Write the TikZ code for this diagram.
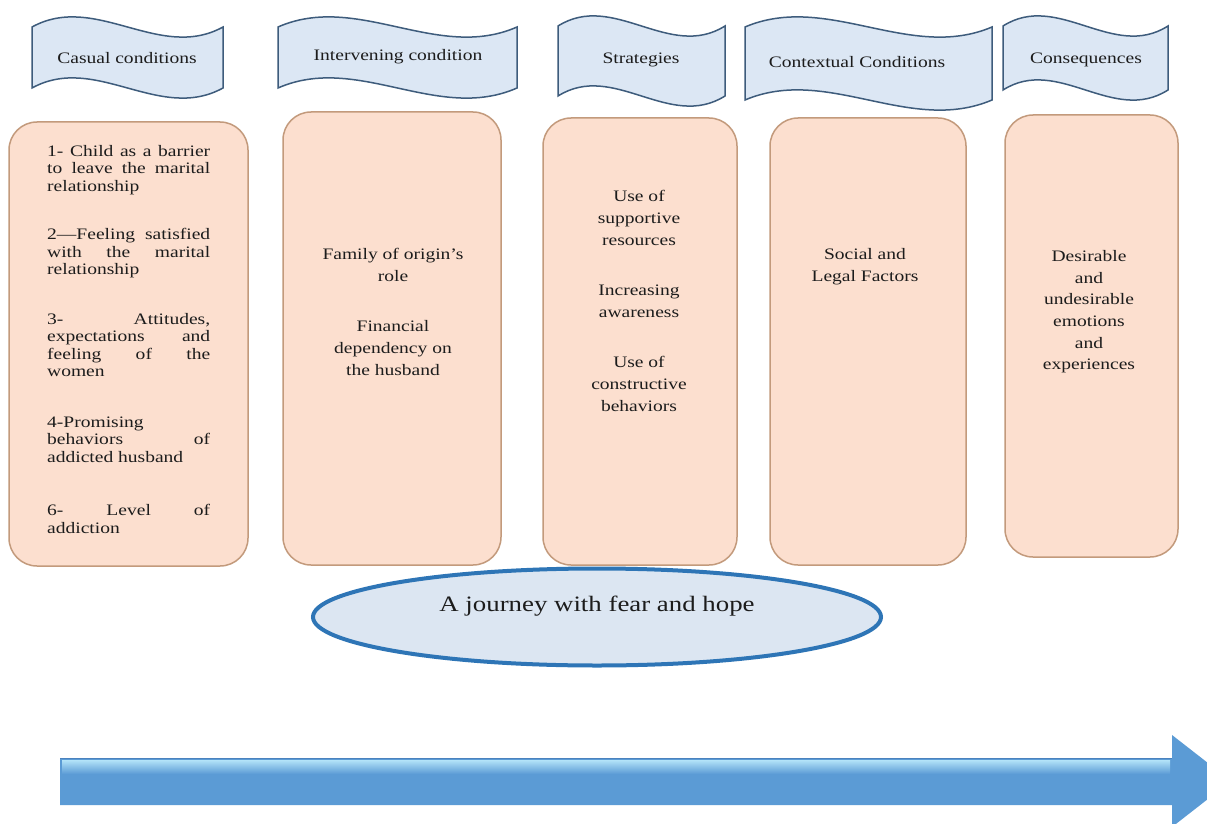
\documentclass[tikz,border=0pt]{standalone}
\usepackage{fontspec}
\setmainfont{Liberation Serif}[FakeStretch=1.22]
\usetikzlibrary{shapes.geometric}
\definecolor{bannerfill}{HTML}{DCE7F4}
\definecolor{bannerdraw}{HTML}{3E5C7C}
\definecolor{boxfill}{HTML}{FCDFCF}
\definecolor{boxdraw}{HTML}{C39A7C}
\definecolor{ellfill}{HTML}{DCE6F2}
\definecolor{elldraw}{HTML}{2E75B6}
\definecolor{arrowfill}{HTML}{5B9BD5}
\definecolor{arrowlight}{HTML}{B3E3F8}
\definecolor{arrowedge}{HTML}{4A82BE}
\definecolor{txt}{HTML}{1C1C1C}
\newcommand\wavebanner[4]{%
  \draw[banner] (#1,#3) .. controls ({#1+(#2-#1)/3},{#3-35}) and ({#1+2*(#2-#1)/3},{#3+35}) .. (#2,#3)
    -- (#2,{#3+#4}) .. controls ({#1+2*(#2-#1)/3},{#3+#4+35}) and ({#1+(#2-#1)/3},{#3+#4-35}) .. (#1,{#3+#4}) -- cycle;}
\begin{document}
\begin{tikzpicture}[x=1pt,y=-1pt,
  banner/.style={draw=bannerdraw, fill=bannerfill, line width=1.5pt},
  btext/.style={text=txt, font=\fontsize{16}{19}\selectfont, inner sep=0pt},
  box/.style={draw=boxdraw, fill=boxfill, line width=1.5pt, rounded corners=28pt, inner sep=0pt},
  ctext/.style={text=txt, align=center, inner sep=0pt, anchor=north, font=\fontsize{16}{22}\selectfont},
]
\fill[white] (0,0) rectangle (1207,824);
\useasboundingbox (0,0) rectangle (1207,824);

% banners
\wavebanner{32}{223}{27}{61}
\wavebanner{278}{517}{27}{61}
\wavebanner{558}{725}{26}{70}
\wavebanner{745}{992}{27}{73}
\wavebanner{1003}{1168}{26}{64}
\node[btext] (h1) at (127,58) {Casual conditions};
\node[btext] (h2) at (398,57) {Intervening condition};
\node[btext] (h3) at (641,60) {Strategies};
\node[btext] (h4) at (857,62) {Contextual Conditions};
\node[btext] (h5) at (1086,60) {Consequences};

% boxes
\node[box, minimum width=239pt, minimum height=444pt] (b1) at (128.5,344) {};
\node[box, minimum width=218pt, minimum height=453pt] (b2) at (392,338.5) {};
\node[box, minimum width=194pt, minimum height=447pt] (b3) at (640,341.5) {};
\node[box, minimum width=196pt, minimum height=447pt] (b4) at (868,341.5) {};
\node[box, minimum width=173pt, minimum height=442pt] (b5) at (1091.5,336) {};

% box texts
\node[text=txt, anchor=north west, inner sep=0pt, align=left, font=\fontsize{16}{17.5}\selectfont] (t1) at (47,145) {%
\makebox[163pt][s]{1- Child as a barrier}\\
\makebox[163pt][s]{to leave the marital}\\
relationship\\[31pt]
\makebox[163pt][s]{2---Feeling satisfied}\\
\makebox[163pt][s]{with the marital}\\
relationship\\[32pt]
\makebox[163pt][s]{3- Attitudes,}\\
\makebox[163pt][s]{expectations and}\\
\makebox[163pt][s]{feeling of the}\\
women\\[33pt]
4-Promising\\
\makebox[163pt][s]{behaviors of}\\
addicted husband\\[36pt]
\makebox[163pt][s]{6- Level of}\\
addiction};

\node[ctext] (t2) at (393,248) {Family of origin's\\ role\\[28pt] Financial\\ dependency on\\ the husband};
\node[ctext] (t3) at (639,190) {Use of\\ supportive\\ resources\\[28pt] Increasing\\ awareness\\[28pt] Use of\\ constructive\\ behaviors};
\node[ctext] (t4) at (865,248) {Social and\\ Legal Factors};
\node[ctext, font=\fontsize{16}{21.7}\selectfont] (t5) at (1089,250) {Desirable\\ and\\ undesirable\\ emotions\\ and\\ experiences};

% ellipse
\node[ellipse, draw=elldraw, fill=ellfill, line width=4pt, minimum width=568pt, minimum height=97pt] (e) at (597,617) {};
\node[text=txt, inner sep=0pt, font=\fontsize{22}{26}\selectfont] (et) at (597,606) {A journey with fear and hope};

% big arrow
\fill[arrowfill] (60,758) -- (1172,758) -- (1172,735) -- (1231,781) -- (1172,827) -- (1172,805) -- (60,805) -- cycle;
\shade[top color=arrowlight, bottom color=arrowfill] (62,760) -- (1170,760) -- (1170,774) -- (62,774) -- cycle;
\draw[arrowedge, line width=1pt] (60,758) -- (1172,758);
\end{tikzpicture}
\end{document}
